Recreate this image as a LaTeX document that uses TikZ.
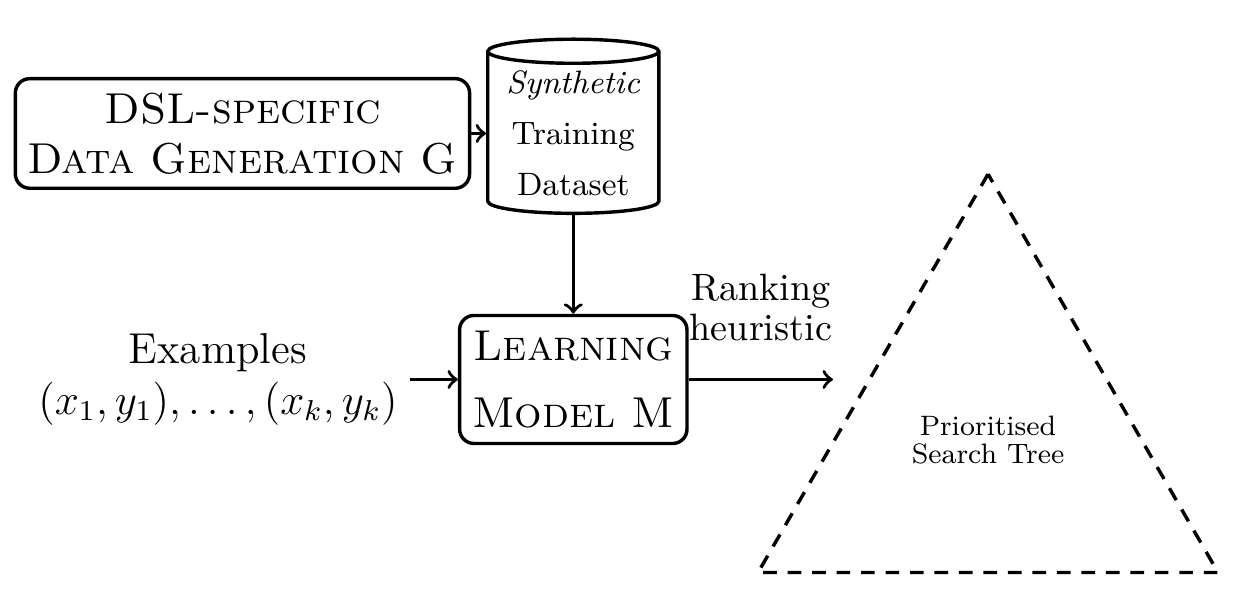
\documentclass[tikz,border=0pt]{standalone}
\usetikzlibrary{shapes.geometric}
\tikzset{
  bold/.style={line width=0.95pt},
  block/.style={draw, bold, rounded corners=4pt, align=center, font=\large},
  store/.style={draw, bold, cylinder, shape border rotate=90, aspect=0.18,
    minimum width=1.67cm, minimum height=1.7cm, inner sep=0pt, align=center,
    font=\fontsize{9}{14.2}\selectfont},
  tree/.style={draw, bold, dash pattern=on 3.8pt off 3pt, regular polygon, regular polygon sides=3,
    minimum size=5.186cm, inner sep=0pt, align=center, font=\fontsize{7.8}{7.8}\selectfont}
}
\begin{document}
\begin{tikzpicture}
 \useasboundingbox (0,0) rectangle (12.184,-5.936);
 % data generation and the dataset
 \node at (2.367,-1.303) (gen) [block, minimum width=4.37cm, minimum height=1.07cm] {\textsc{DSL-specific}\\\textsc{Data Generation G}};
 \node at (5.597,-1.3) (data) [store] {\textit{Synthetic}\\Training\\Dataset};
 \draw [->, bold] (gen.east) -- (data.west |- gen.east);
 % model
 \node at (5.597,-3.705) (learn) [block, minimum width=2.22cm, minimum height=1.25cm] {\textsc{Learning}\\[4.4pt]\textsc{Model M}};
 \draw [->, bold] (data.south) -- (learn.north);
 % input examples
 \node at (2.128,-3.705) (ex) [align=center, font=\large] {Examples\\$(x_1,y_1),\ldots,(x_k,y_k)$};
 \draw [->, bold] (ex.east) -- (learn.west);
 % search tree
 \coordinate (rank) at (8.132,-3.705);
 \draw [->, bold] (learn.east) -- node [above=7pt, align=center, font=\fontsize{10.6}{11.1}\selectfont] {Ranking\\heuristic} (rank);
 \node at (9.646,-4.293) (search) [tree] {Prioritised\\Search Tree};
\end{tikzpicture}
\end{document}
